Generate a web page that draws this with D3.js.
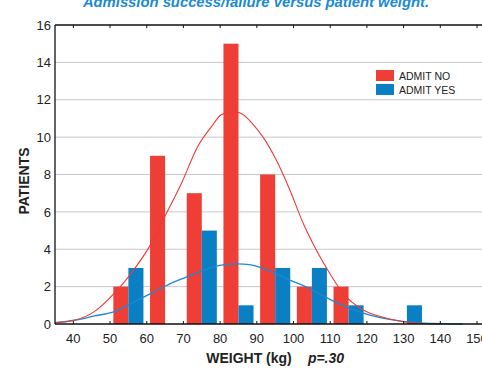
<!DOCTYPE html>
<html><head><meta charset="utf-8">
<script src="https://cdn.jsdelivr.net/npm/d3@7"></script>
<style>body{margin:0;background:#fff}svg{display:block}</style>
</head><body>
<script>
// ADMIT NO bars: bin start (kg) and count
const noBins   = [50,60,70,80,90,100,110];
const admitNo  = [2,9,7,15,8,2,2];
// ADMIT YES bars: bin start (kg) and count (the 130s bar sits at the left slot)
const yesBins  = [55,75,85,95,105,115,130.9];
const admitYes = [3,5,1,3,3,1,1];
const xTicks = [40,50,60,70,80,90,100,110,120,130,140,150];
const yTicks = [0,2,4,6,8,10,12,14,16];
const curveNoX = [35,40.3,45.7,51.2,55.7,61.2,64.8,69.4,73.9,77.6,80.3,83,85.3,88.9,91.7,95.3,99,102.6,106.2,109.9,113.5,119,124.4,129.9,135,140];
const curveNoY = [0.07,0.2,0.66,1.65,2.7,4.3,5.7,7.5,9.5,10.55,11.2,11.35,11.3,10.7,10.0,8.77,7.17,5.4,3.96,2.7,1.64,0.75,0.36,0.12,0.03,0.0];
const curveYesX = [35,40.3,45.7,51.2,55.7,61.2,66.6,71.1,75.7,80.3,84.8,88,91.7,99,104.4,109.9,115.3,120.8,126.2,133.5,140,146];
const curveYesY = [0.07,0.2,0.43,0.66,1.1,1.64,2.17,2.53,2.9,3.15,3.22,3.18,2.98,2.35,1.9,1.32,0.84,0.48,0.25,0.07,0.02,0.0];

const W = 482, H = 368;
const svg = d3.select("body").append("svg").attr("width", W).attr("height", H);
const x = d3.scaleLinear().domain([35,150]).range([55,477]);
const y = d3.scaleLinear().domain([0,16]).range([324,25]);
const font = "Liberation Sans, Arial, Helvetica, sans-serif";
const red = "#ef3e36", blue = "#0a7fc4";

// gridlines
svg.append("g").selectAll("line").data(yTicks.filter(d=>d>0 && d<16)).join("line")
  .attr("x1", 55).attr("x2", W).attr("y1", d=>y(d)).attr("y2", d=>y(d))
  .attr("stroke", "#c8c8cc").attr("stroke-width", 1);

// bars
const bw = x(54.1) - x(50);
svg.append("g").selectAll("rect").data(noBins.map((b,i)=>({b,v:admitNo[i]}))).join("rect")
  .attr("x", d=>x(d.b+5)-bw).attr("width", bw)
  .attr("y", d=>y(d.v)).attr("height", d=>y(0)-y(d.v)).attr("fill", red);
svg.append("g").selectAll("rect").data(yesBins.map((b,i)=>({b,v:admitYes[i]}))).join("rect")
  .attr("x", d=>x(d.b)).attr("width", bw)
  .attr("y", d=>y(d.v)).attr("height", d=>y(0)-y(d.v)).attr("fill", blue);

// curves
const line = d3.line().x(d=>x(d[0])).y(d=>y(d[1])).curve(d3.curveMonotoneX);
svg.append("path").datum(curveYesX.map((v,i)=>[v,curveYesY[i]])).attr("d", line)
  .attr("fill","none").attr("stroke","#1b8ad2").attr("stroke-width",1.3);
svg.append("path").datum(curveNoX.map((v,i)=>[v,curveNoY[i]])).attr("d", line)
  .attr("fill","none").attr("stroke","#ee3a35").attr("stroke-width",1.1);

// axes frame
svg.append("line").attr("x1",55).attr("x2",W).attr("y1",y(0)).attr("y2",y(0)).attr("stroke","#111").attr("stroke-width",1.3);
svg.append("line").attr("x1",55).attr("x2",W).attr("y1",y(16)).attr("y2",y(16)).attr("stroke","#111").attr("stroke-width",1.3);
svg.append("line").attr("x1",55).attr("x2",55).attr("y1",y(16)).attr("y2",y(0)).attr("stroke","#111").attr("stroke-width",1.3);

// x ticks (bottom up, top down)
svg.append("g").selectAll("line").data(xTicks).join("line")
  .attr("x1", d=>x(d)).attr("x2", d=>x(d)).attr("y1", y(0)).attr("y2", y(0)-3)
  .attr("stroke","#111").attr("stroke-width",1);
svg.append("g").selectAll("line").data(xTicks).join("line")
  .attr("x1", d=>x(d)).attr("x2", d=>x(d)).attr("y1", y(16)).attr("y2", y(16)+3)
  .attr("stroke","#111").attr("stroke-width",1);

// tick labels
svg.append("g").selectAll("text").data(xTicks).join("text")
  .attr("x", d=>x(d)).attr("y", 342.5).attr("text-anchor","middle")
  .attr("font-family", font).attr("font-size", 13).attr("fill","#222").text(d=>d);
svg.append("g").selectAll("text").data(yTicks).join("text")
  .attr("x", 51).attr("y", d=>y(d)+4.7).attr("text-anchor","end")
  .attr("font-family", font).attr("font-size", 13).attr("fill","#222").text(d=>d);

// axis titles
svg.append("text").attr("transform","translate(29,181) rotate(-90)").attr("text-anchor","middle")
  .attr("font-family", font).attr("font-size", 14).attr("font-weight","bold").attr("fill","#222").text("PATIENTS");
svg.append("text").attr("x", 249).attr("y", 363).attr("text-anchor","middle")
  .attr("font-family", font).attr("font-size", 14).attr("font-weight","bold").attr("fill","#222").text("WEIGHT (kg)");
svg.append("text").attr("x", 326).attr("y", 363).attr("text-anchor","middle")
  .attr("font-family", font).attr("font-size", 14).attr("font-weight","bold").attr("font-style","italic").attr("fill","#222").text("p=.30");

// title
svg.append("text").attr("x", 256).attr("y", 7).attr("text-anchor","middle")
  .attr("font-family", font).attr("font-size", 14.8).attr("font-weight","bold").attr("font-style","italic")
  .attr("fill","#1a8ad4").text("Admission success/failure versus patient weight.");

// legend
const leg = [{t:"ADMIT NO",c:red},{t:"ADMIT YES",c:blue}];
const lg = svg.append("g").selectAll("g").data(leg).join("g")
  .attr("transform",(d,i)=>`translate(376,${70+i*14})`);
lg.append("rect").attr("width",18).attr("height",11).attr("fill",d=>d.c);
lg.append("text").attr("x",23).attr("y",9.8).attr("font-family",font)
  .attr("font-size",10.5).attr("fill","#222").text(d=>d.t);
</script>
</body></html>
